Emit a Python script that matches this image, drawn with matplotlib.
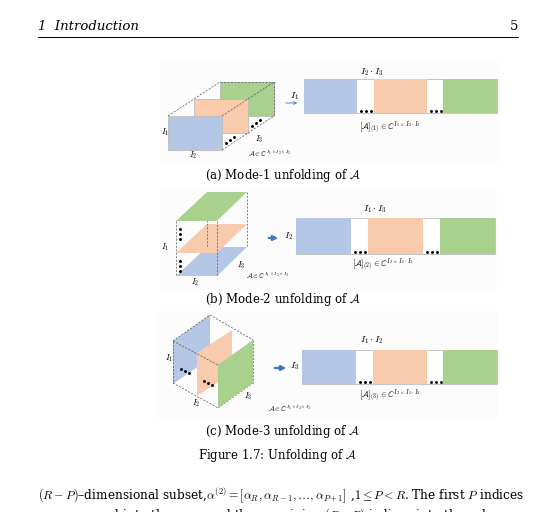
import matplotlib.pyplot as plt
from matplotlib.patches import Polygon, Rectangle, FancyArrowPatch

plt.rcParams['mathtext.fontset'] = 'cm'
plt.rcParams['font.family'] = 'DejaVu Serif'

# slice colours and labels
slice_colors = ['#b4c7e7', '#f8cbad', '#a9d18e']
captions = [r'(a) Mode-1 unfolding of $\mathcal{A}$',
            r'(b) Mode-2 unfolding of $\mathcal{A}$',
            r'(c) Mode-3 unfolding of $\mathcal{A}$']
col_labels = [r'$I_2\cdot I_3$', r'$I_1\cdot I_3$', r'$I_1\cdot I_2$']
row_labels = [r'$I_1$', r'$I_2$', r'$I_3$']
mat_labels = [r'$[\mathcal{A}]_{(1)}\in\mathbb{C}^{I_1\times I_2\cdot I_3}$',
              r'$[\mathcal{A}]_{(2)}\in\mathbb{C}^{I_2\times I_1\cdot I_3}$',
              r'$[\mathcal{A}]_{(3)}\in\mathbb{C}^{I_3\times I_1\cdot I_2}$']
tensor_label = r'$\mathcal{A}\in\mathbb{C}^{I_1\times I_2\times I_3}$'

fig = plt.figure(figsize=(5.5, 5.12), dpi=100)
ax = fig.add_axes([0, 0, 1, 1])
ax.set_xlim(0, 550)
ax.set_ylim(512, 0)
ax.axis('off')

def poly(pts, fc, ec='#aaaaaa', ls='-', lw=0.6, z=2):
    ax.add_patch(Polygon(pts, closed=True, fc=fc, ec=ec, ls=ls, lw=lw, zorder=z))

def dashed(p, q):
    ax.plot([p[0], q[0]], [p[1], q[1]], ls=(0, (3, 2)), color='#555555', lw=0.5, zorder=3)

def dots(x, y, dx=5, dy=0):
    ax.plot([x, x + dx, x + 2 * dx], [y, y + dy, y + 2 * dy], 'k.', ms=2.2, zorder=4)

def fs(s=7):
    return dict(fontsize=s, ha='center', va='center')

# header
ax.text(38, 27, '1  Introduction', fontsize=9.5, style='italic', va='center')
ax.text(518, 27, '5', fontsize=9.5, ha='right', va='center')
ax.plot([38, 518], [37, 37], color='k', lw=0.7)

# panel backgrounds
for x0, x1, y0, y1 in [(160, 500, 62, 162), (160, 497, 188, 290), (155, 498, 311, 418)]:
    ax.add_patch(Rectangle((x0, y0), x1 - x0, y1 - y0, fc='#fcfcfc', ec='none', zorder=1))

# unfolded matrices
bar_rows = [(79, 113), (218, 254), (350, 384)]
bar_cols = [[(304, 357), (374, 427), (443, 497)],
            [(296, 351), (368, 423), (440, 495)],
            [(302, 356), (373, 427), (443, 497)]]
label_pos = [((372, 72), (295, 96), (390, 128)),
             ((375, 209), (289, 236), (383, 265)),
             ((372, 340), (295, 366), (390, 396))]
for k in range(3):
    y0, y1 = bar_rows[k]
    cols = bar_cols[k]
    ax.add_patch(Rectangle((cols[0][0], y0), cols[2][1] - cols[0][0], y1 - y0,
                           fc='white', ec='#bbbbbb', lw=0.6, zorder=2))
    for (a, b), c in zip(cols, slice_colors):
        ax.add_patch(Rectangle((a, y0), b - a, y1 - y0, fc=c, ec='none', zorder=3))
    for g in range(2):
        dots(cols[g][1] + 4, y1 - 2)
    ax.text(*label_pos[k][0], col_labels[k], **fs(7))
    ax.text(*label_pos[k][1], row_labels[k], **fs(7))
    ax.text(*label_pos[k][2], mat_labels[k], **fs(6))

# (a) cube, frontal slices
for i in (2, 1, 0):
    dx, dy = 26 * i, -17 * i
    poly([(168 + dx, 116 + dy), (222 + dx, 116 + dy), (222 + dx, 150 + dy), (168 + dx, 150 + dy)],
         slice_colors[i], ec='#bbbbbb')
for p, q in [((168, 116), (220, 82)), ((222, 116), (274, 82)), ((222, 150), (274, 116)),
             ((220, 82), (274, 82)), ((274, 82), (274, 116))]:
    dashed(p, q)
dots(226, 143, 4, -3)
dots(252, 126, 4, -3)
ax.add_patch(FancyArrowPatch((283, 103), (300, 103), arrowstyle='->', mutation_scale=5,
                             color='#4472c4', lw=0.6, zorder=4))
ax.text(165, 132, r'$I_1$', **fs(6))
ax.text(193, 155, r'$I_2$', **fs(6))
ax.text(259, 139, r'$I_3$', **fs(6))
ax.text(270, 154, tensor_label, **fs(5))
ax.text(283, 176, captions[0], **fs(8.5))

# (b) cube, horizontal slices
fronts = [276, 253, 221]
for i in (0, 1, 2):
    f = fronts[i]
    poly([(176, f), (217, f), (247, f - 29), (207, f - 29)], slice_colors[i], ec='none', z=2 + i)
for p, q in [((176, 221), (176, 276)), ((217, 221), (217, 276)), ((247, 192), (247, 247)),
             ((207, 192), (207, 247))]:
    dashed(p, q)
dots(180, 229, 0, 5)
dots(180, 261, 0, 5)
ax.add_patch(FancyArrowPatch((266, 238), (281, 238), arrowstyle='-|>', mutation_scale=7,
                             color='#4472c4', lw=1.6, zorder=4))
ax.text(165, 247, r'$I_1$', **fs(6))
ax.text(195, 282, r'$I_2$', **fs(6))
ax.text(241, 265, r'$I_3$', **fs(6))
ax.text(268, 276, tensor_label, **fs(5))
ax.text(283, 300, captions[1], **fs(8.5))

# (c) cube, lateral slices
lefts = [(173, 341, 210, 315), (197, 353, 232, 330), (218, 365, 253, 340)]
for i in (0, 1, 2):
    xl, yl, xr, yr = lefts[i]
    poly([(xl, yl), (xr, yr), (xr, yr + 43), (xl, yl + 43)], slice_colors[i], ec='none', z=2 + i)
for p, q in [((173, 341), (210, 315)), ((210, 315), (253, 340)), ((173, 341), (173, 383)),
             ((173, 383), (218, 408)), ((218, 408), (253, 383)), ((253, 340), (253, 383)),
             ((173, 341), (218, 365))]:
    dashed(p, q)
dots(181, 369, 4, 2)
dots(204, 381, 4, 2)
ax.add_patch(FancyArrowPatch((272, 368), (289, 368), arrowstyle='-|>', mutation_scale=7,
                             color='#4472c4', lw=1.6, zorder=4))
ax.text(169, 358, r'$I_1$', **fs(6))
ax.text(196, 403, r'$I_2$', **fs(6))
ax.text(248, 396, r'$I_3$', **fs(6))
ax.text(290, 409, tensor_label, **fs(5))
ax.text(283, 432, captions[2], **fs(8.5))

ax.text(278, 456, r'Figure 1.7: Unfolding of $\mathcal{A}$', **fs(8.5))

ax.text(38, 495, r'$(R-P)$–dimensional subset,$\alpha^{(2)}=[\alpha_R,\alpha_{R-1},\ldots,\alpha_{P+1}]$'
        r' ,$1\leq P<R$. The first $P$ indices', fontsize=8.7, va='center')
ax.text(38, 515, r'are arranged into the rows and the remaining $(R-P)$ indices into the columns.',
        fontsize=8.7, va='center')

fig.savefig('out.png', dpi=100)
